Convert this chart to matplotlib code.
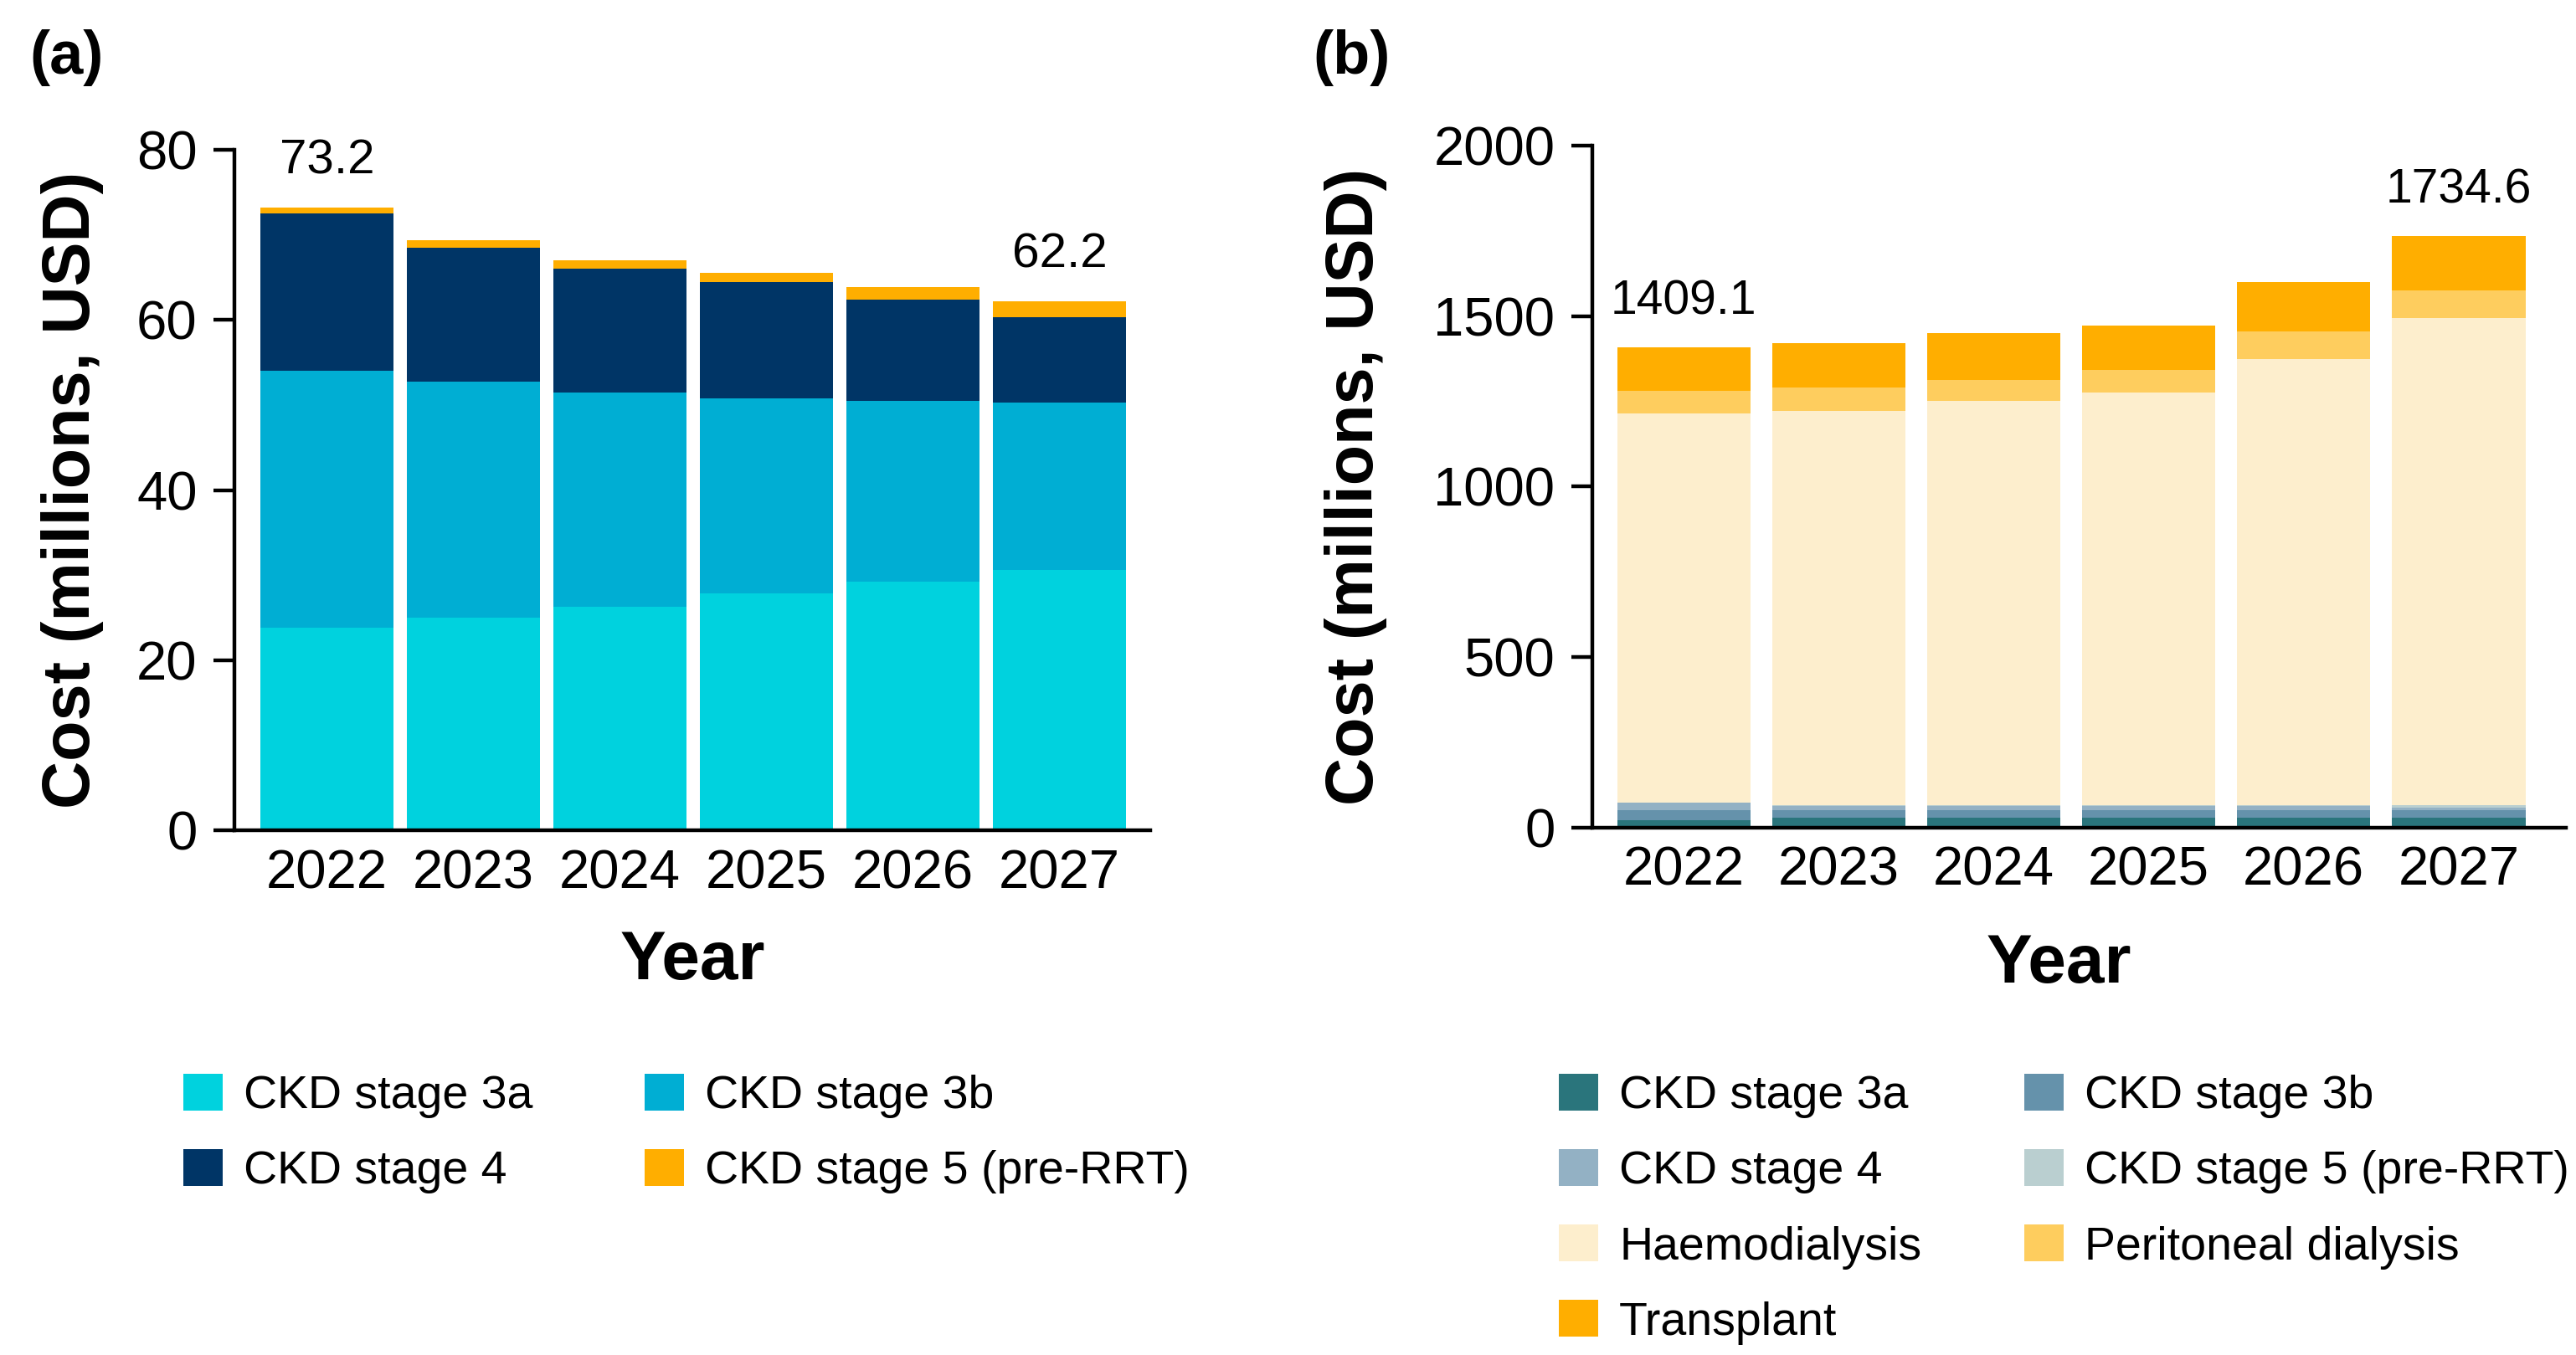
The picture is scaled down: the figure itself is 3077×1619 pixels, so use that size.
import numpy as np
import matplotlib
matplotlib.use('Agg')
import matplotlib.pyplot as plt

plt.rcParams['font.family'] = ['Liberation Sans', 'DejaVu Sans']

years = ['2022', '2023', '2024', '2025', '2026', '2027']

# panel (a): CKD stages 3a-5 (millions USD)
a_labels = ['CKD stage 3a', 'CKD stage 3b', 'CKD stage 4', 'CKD stage 5 (pre-RRT)']
a_3a = [23.8, 25.0, 26.3, 27.9, 29.2, 30.6]
a_3b = [30.2, 27.7, 25.2, 22.9, 21.3, 19.7]
a_4 = [18.5, 15.8, 14.5, 13.6, 11.9, 10.0]
a_5 = [0.7, 0.8, 1.0, 1.1, 1.4, 1.9]
a_colors = ['#00D2DE', '#00AED3', '#003566', '#FFAE00']

# panel (b): all stages incl. RRT (millions USD)
b_labels = ['CKD stage 3a', 'CKD stage 3b', 'CKD stage 4', 'CKD stage 5 (pre-RRT)',
            'Haemodialysis', 'Peritoneal dialysis', 'Transplant']
b_3a = [21, 28, 28, 28, 28, 28]
b_3b = [29, 22, 22, 22, 22, 22]
b_4 = [21.5, 14, 14, 14, 14, 8]
b_5 = [0.5, 1, 1, 1, 1, 7]
b_hd = [1143, 1157, 1187, 1211, 1310, 1430]
b_pd = [66, 69, 61, 67, 81, 81]
b_tx = [128.1, 130, 138, 130, 145, 158.6]
b_colors = ['#2A757C', '#6592AB', '#93B1C4', '#BACFD0', '#FDEECD', '#FECD5E', '#FFAE00']

a_total_labels = {0: '73.2', 5: '62.2'}
b_total_labels = {0: '1409.1', 5: '1734.6'}

fig = plt.figure(figsize=(3077/200, 1619/200), dpi=200)
axa = fig.add_axes([0.0910, 0.3870, 0.3555, 0.5027])
axb = fig.add_axes([0.6181, 0.3894, 0.3779, 0.5029])


def stack(ax, series, colors, labels, width):
    x = np.arange(len(years))
    bottom = np.zeros(len(years))
    handles = []
    for vals, c, lab in zip(series, colors, labels):
        h = ax.bar(x, vals, width, bottom=bottom, color=c, label=lab, linewidth=0)
        handles.append(h)
        bottom = bottom + np.array(vals)
    return x, bottom, handles


def style(ax, ylim, ticks):
    ax.set_ylim(0, ylim)
    ax.set_yticks(ticks)
    for s in ['top', 'right']:
        ax.spines[s].set_visible(False)
    for s in ['left', 'bottom']:
        ax.spines[s].set_linewidth(1.6)
    ax.tick_params(axis='y', length=9, width=1.6, labelsize=23.5, pad=7)
    ax.tick_params(axis='x', length=0, labelsize=23.5, pad=8)
    ax.set_xticks(range(len(years)))
    ax.set_xticklabels(years)
    ax.set_xlabel('Year', fontsize=29.5, fontweight='bold', labelpad=13)


xa, tota, ha = stack(axa, [a_3a, a_3b, a_4, a_5], a_colors, a_labels, 0.91)
axa.set_xlim(-0.63, 5.62)
style(axa, 80, [0, 20, 40, 60, 80])
axa.set_ylabel('Cost (millions, USD)', fontsize=28.5, fontweight='bold', labelpad=14)
for i, t in a_total_labels.items():
    axa.annotate(t, (xa[i], tota[i]), xytext=(0, 10), textcoords='offset points',
                 ha='center', va='bottom', fontsize=21, annotation_clip=False)

xb, totb, hb = stack(axb, [b_3a, b_3b, b_4, b_5, b_hd, b_pd, b_tx], b_colors, b_labels, 0.86)
axb.set_xlim(-0.59, 5.69)
style(axb, 2000, [0, 500, 1000, 1500, 2000])
axb.set_ylabel('Cost (millions, USD)', fontsize=28.5, fontweight='bold', labelpad=20)
axb.xaxis.set_label_coords(0.479, -0.155)
for i, t in b_total_labels.items():
    axb.annotate(t, (xb[i], totb[i]), xytext=(0, 10), textcoords='offset points',
                 ha='center', va='bottom', fontsize=20.5, annotation_clip=False)

fig.text(80/3077, 1 - 69/1619, '(a)', fontsize=26, fontweight='bold', ha='center', va='center')
fig.text(1615/3077, 1 - 69/1619, '(b)', fontsize=26, fontweight='bold', ha='center', va='center')

# legends (column-major ordering to get row-wise layout)
order_a = [0, 2, 1, 3]
fig.legend([ha[i] for i in order_a], [a_labels[i] for i in order_a],
           loc='upper left', bbox_to_anchor=(219/3077, 1 - 1283/1619), ncol=2,
           frameon=False, fontsize=20, handlelength=0.85, handleheight=0.85,
           handletextpad=0.45, columnspacing=2.4, labelspacing=0.66, borderpad=0,
           borderaxespad=0)
order_b = [0, 2, 4, 6, 1, 3, 5]
fig.legend([hb[i] for i in order_b], [b_labels[i] for i in order_b],
           loc='upper left', bbox_to_anchor=(1862/3077, 1 - 1283/1619), ncol=2,
           frameon=False, fontsize=20, handlelength=0.85, handleheight=0.85,
           handletextpad=0.45, columnspacing=2.2, labelspacing=0.66, borderpad=0,
           borderaxespad=0)

fig.savefig('out.png', dpi=200)
